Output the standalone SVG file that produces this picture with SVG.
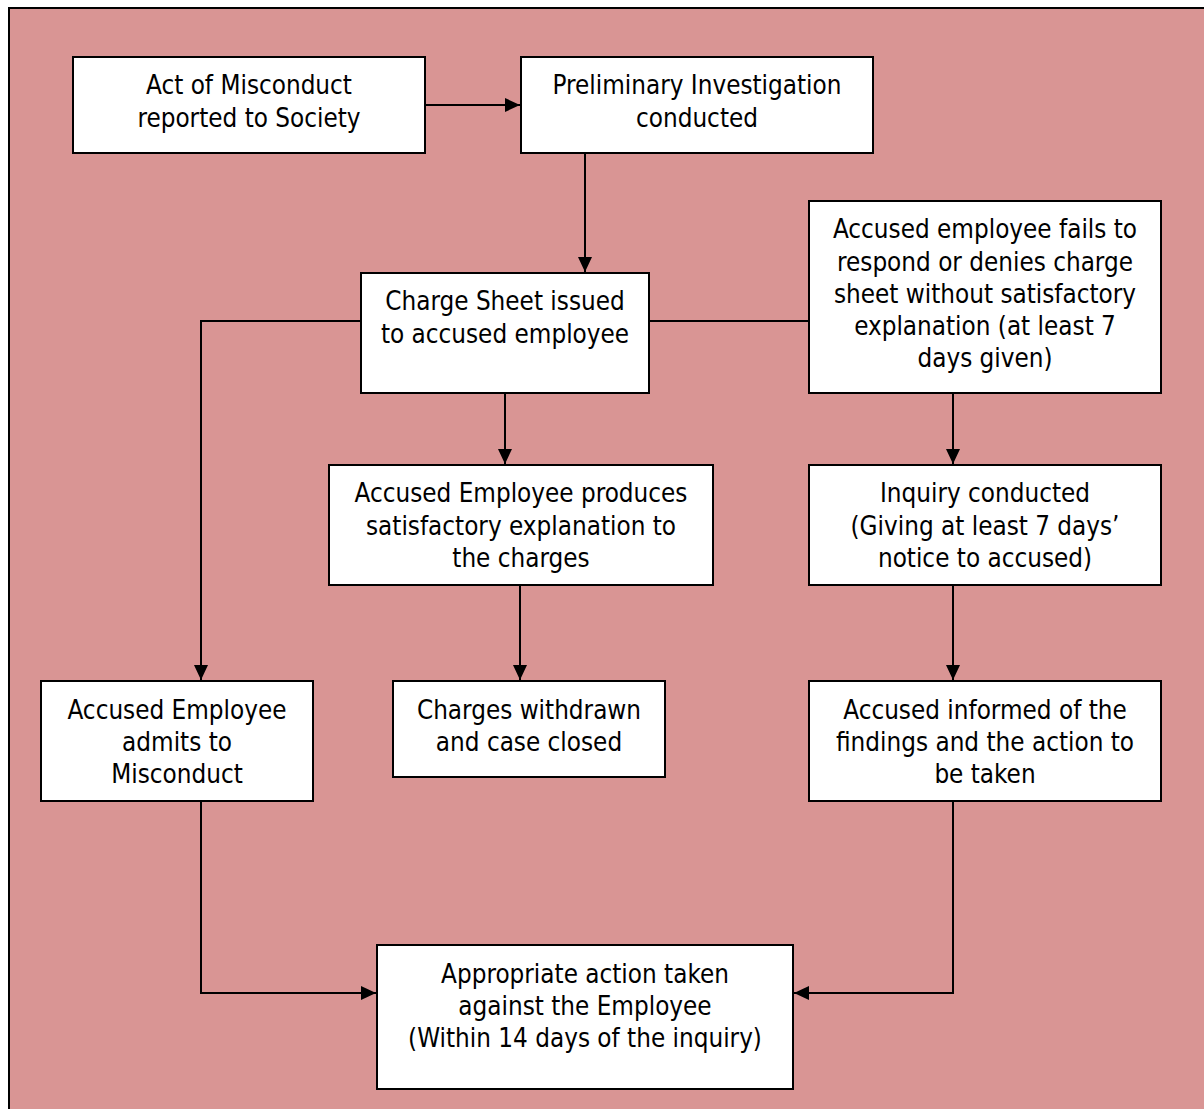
<svg xmlns="http://www.w3.org/2000/svg" width="1204" height="1109" viewBox="0 0 1204 1109">
<style>
.bg{fill:#d99594;stroke:#000;stroke-width:2}
.box{fill:#fff;stroke:#000;stroke-width:2}
.t{font-family:"DejaVu Sans Condensed","DejaVu Sans",sans-serif;font-size:25.8px;fill:#000;text-anchor:middle}
.c{fill:none;stroke:#000;stroke-width:2}
</style>
<defs>
<marker id="ah" markerWidth="15" markerHeight="14" refX="15" refY="7" orient="auto" markerUnits="userSpaceOnUse" viewBox="0 0 15 14">
<path d="M0,0 L15,7 L0,14 z" fill="#000"/>
</marker>
</defs>
<rect class="bg" x="9" y="8" width="1200" height="1110"/>
<g id="connectors">
<path class="c" d="M425,105 H520" marker-end="url(#ah)"/>
<path class="c" d="M585,153 V272" marker-end="url(#ah)"/>
<path class="c" d="M361,321 H201 V680" marker-end="url(#ah)"/>
<path class="c" d="M649,321 H809"/>
<path class="c" d="M505,393 V464" marker-end="url(#ah)"/>
<path class="c" d="M520,585 V680" marker-end="url(#ah)"/>
<path class="c" d="M953,393 V464" marker-end="url(#ah)"/>
<path class="c" d="M953,585 V680" marker-end="url(#ah)"/>
<path class="c" d="M201,801 V993 H376" marker-end="url(#ah)"/>
<path class="c" d="M953,801 V993 H794" marker-end="url(#ah)"/>
</g>
<g id="n1"><rect class="box" x="73" y="57" width="352" height="96"/>
<text class="t" x="249" y="94">Act of Misconduct</text><text class="t" x="249" y="127">reported to Society</text></g>
<g id="n2"><rect class="box" x="521" y="57" width="352" height="96"/>
<text class="t" x="697" y="94">Preliminary Investigation</text><text class="t" x="697" y="127">conducted</text></g>
<g id="n3"><rect class="box" x="361" y="273" width="288" height="120"/>
<text class="t" x="505" y="310">Charge Sheet issued</text><text class="t" x="505" y="343">to accused employee</text></g>
<g id="n4"><rect class="box" x="809" y="201" width="352" height="192"/>
<text class="t" x="985" y="238">Accused employee fails to</text><text class="t" x="985" y="271">respond or denies charge</text><text class="t" x="985" y="303">sheet without satisfactory</text><text class="t" x="985" y="335">explanation (at least 7</text><text class="t" x="985" y="367">days given)</text></g>
<g id="n5"><rect class="box" x="329" y="465" width="384" height="120"/>
<text class="t" x="521" y="502">Accused Employee produces</text><text class="t" x="521" y="535">satisfactory explanation to</text><text class="t" x="521" y="567">the charges</text></g>
<g id="n6"><rect class="box" x="809" y="465" width="352" height="120"/>
<text class="t" x="985" y="502">Inquiry conducted</text><text class="t" x="985" y="535">(Giving at least 7 days’</text><text class="t" x="985" y="567">notice to accused)</text></g>
<g id="n7"><rect class="box" x="41" y="681" width="272" height="120"/>
<text class="t" x="177" y="719">Accused Employee</text><text class="t" x="177" y="751">admits to</text><text class="t" x="177" y="783">Misconduct</text></g>
<g id="n8"><rect class="box" x="393" y="681" width="272" height="96"/>
<text class="t" x="529" y="719">Charges withdrawn</text><text class="t" x="529" y="751">and case closed</text></g>
<g id="n9"><rect class="box" x="809" y="681" width="352" height="120"/>
<text class="t" x="985" y="719">Accused informed of the</text><text class="t" x="985" y="751">findings and the action to</text><text class="t" x="985" y="783">be taken</text></g>
<g id="n10"><rect class="box" x="377" y="945" width="416" height="144"/>
<text class="t" x="585" y="983">Appropriate action taken</text><text class="t" x="585" y="1015">against the Employee</text><text class="t" x="585" y="1047">(Within 14 days of the inquiry)</text></g>
</svg>
